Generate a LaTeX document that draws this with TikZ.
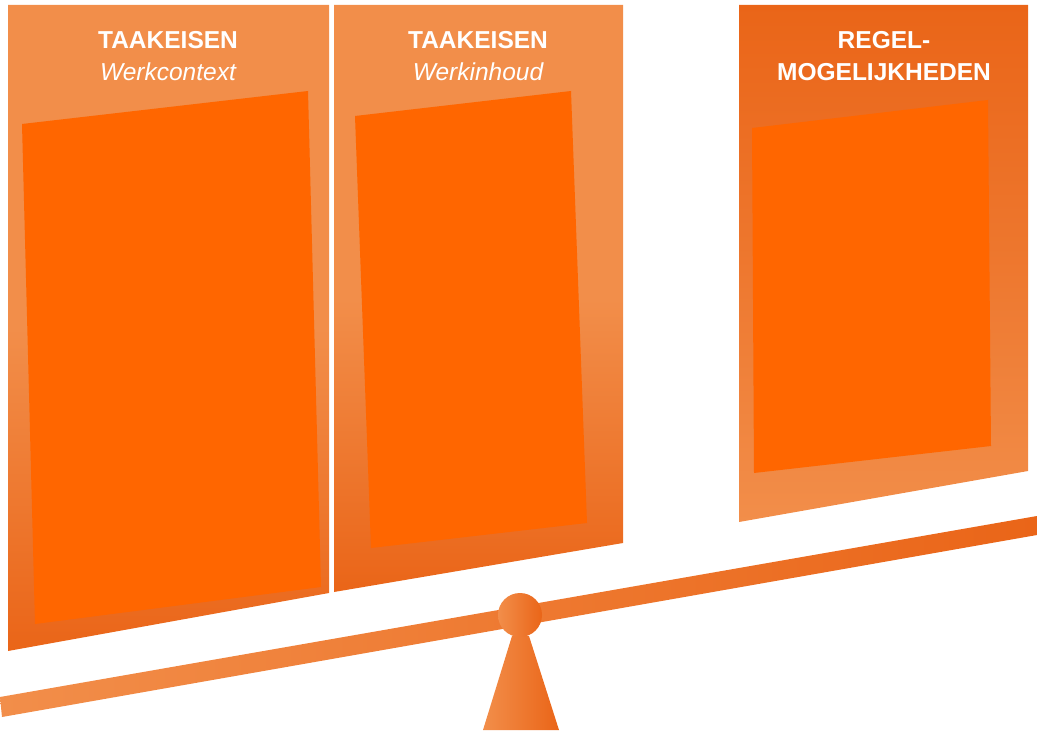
\documentclass[tikz,border=0pt]{standalone}
\usepackage{fontspec}
\setmainfont{Liberation Sans}
\definecolor{o1}{RGB}{242,142,74}
\definecolor{o2}{RGB}{234,101,24}
\definecolor{o3}{RGB}{255,102,0}
\tikzset{
  kop/.style={text=white,anchor=base,font=\bfseries\fontsize{24.5}{28}\selectfont},
  sub/.style={text=white,anchor=base,font=\itshape\fontsize{24.5}{28}\selectfont},
  vlak/.style={fill=o3}
}

\begin{document}
\begin{tikzpicture}[x=1pt,y=-1pt]
      \useasboundingbox (0,0) rectangle (1037,733);
      \shade[top color=o1,bottom color=o2,middle color=o1] (8,5) -- (329,5) -- (329,593) -- (8,651) -- cycle;%panel 1
      \shade[top color=o1,bottom color=o2,middle color=o1] (334,5) -- (623,5) -- (623,543) -- (334,592) -- cycle;%panel 2
      \shade[top color=o2,bottom color=o1,middle color=o2!55!o1] (739,5) -- (1028,5) -- (1028,471) -- (739,522) -- cycle;%panel 3

      \fill[vlak] (22,124) -- (308,91) -- (321,587) -- (35,624) -- cycle;%vlak 1
      \fill[vlak] (355,116) -- (571,91) -- (587,523) -- (371,548) -- cycle;%vlak 2
      \fill[vlak] (752,128) -- (988,100) -- (991,446) -- (754,473) -- cycle;%vlak 3

      \node[kop] (kop1) at (168,49) {TAAKEISEN};
      \node[sub] (sub1) at (168,81) {Werkcontext};
      \node[kop] (kop2) at (478,49) {TAAKEISEN};
      \node[sub] (sub2) at (478,81) {Werkinhoud};
      \node[kop] (kop3) at (884,49) {REGEL-};
      \node[kop] (kop4) at (884,81) {MOGELIJKHEDEN};

      \shade[left color=o1,right color=o2] (0,697) -- (1037,516) -- (1037,535) -- (2,717) -- cycle;%balk
      \shade[left color=o1,right color=o2] (512,636) -- (529,636) -- (559,730) -- (483,730) -- cycle;%voet
      \shade[left color=o1,right color=o2] (520,615) circle (22);%kogel
\end{tikzpicture}
\end{document}
